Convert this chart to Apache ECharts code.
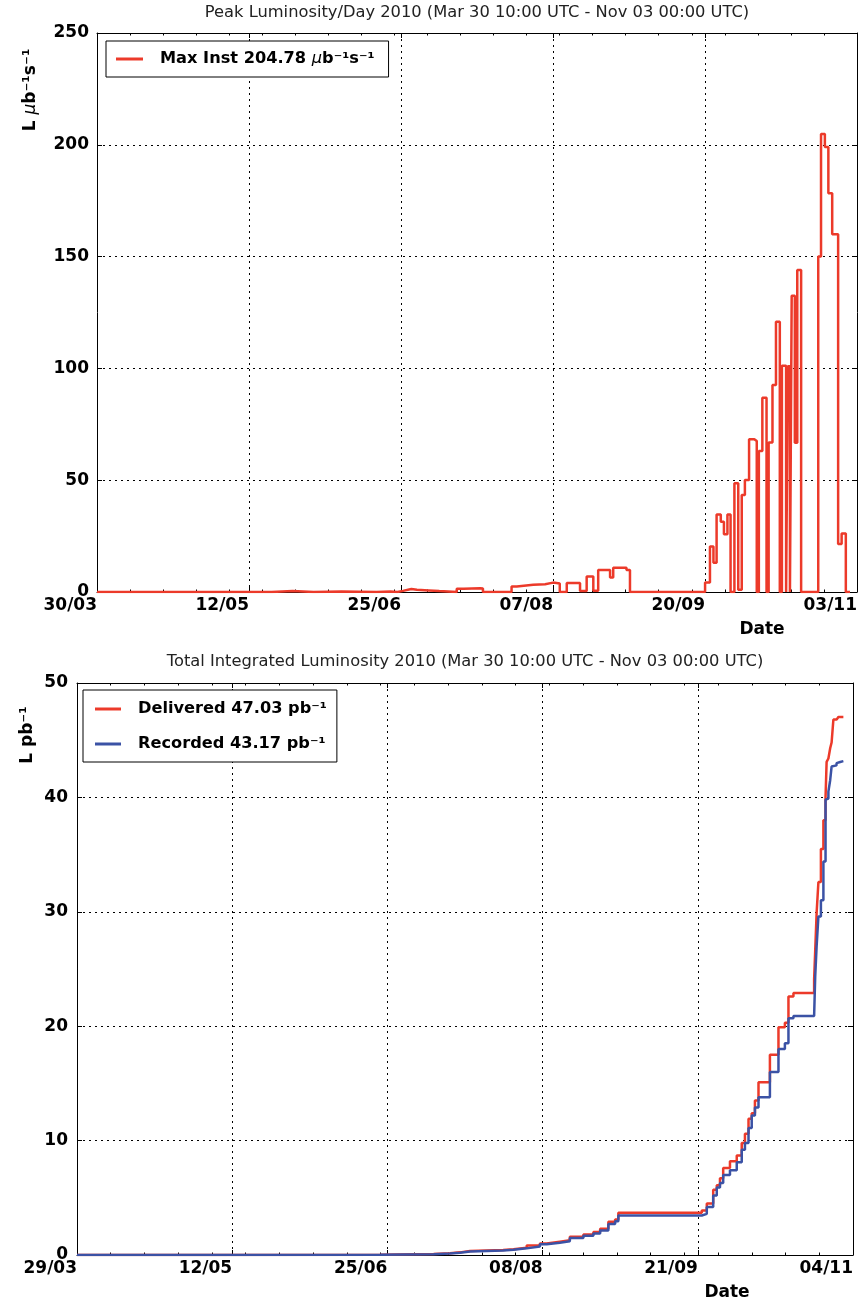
<!DOCTYPE html>
<html>
<head>
<meta charset="utf-8">
<script src="https://cdn.jsdelivr.net/npm/echarts@6/dist/echarts.min.js"></script>
<style>
html,body{margin:0;padding:0;background:#fff;}
#chart{width:861px;height:1307px;}
</style>
</head>
<body>
<div id="chart"></div>
<script>
// ---------- data ----------
const peakTitle = 'Peak Luminosity/Day 2010 (Mar 30 10:00 UTC - Nov 03 00:00 UTC)';
const intTitle = 'Total Integrated Luminosity 2010 (Mar 30 10:00 UTC - Nov 03 00:00 UTC)';
const peakTickLabels = ['30/03', '12/05', '25/06', '07/08', '20/09', '03/11'];
const intTickLabels = ['29/03', '12/05', '25/06', '08/08', '21/09', '04/11'];
const xAxisTitle = 'Date';
const peakYTitle = 'L μb⁻¹s⁻¹';
const intYTitle = 'L pb⁻¹';
const peakName = 'Max Inst 204.78 μb⁻¹s⁻¹';
const deliveredName = 'Delivered 47.03 pb⁻¹';
const recordedName = 'Recorded 43.17 pb⁻¹';

// days since start of range, step begins at each day
const peakDays = [0, 50, 56, 62, 70, 80, 84, 86, 87.6, 90, 91.6, 95, 98, 103, 105, 109.7, 110.5,
  118.7, 120.2, 124.9, 128.3, 130.6, 132.5, 134.5, 138.3, 140.2, 142.1, 143.5, 146.9, 147.8, 151.6, 152.6,
  174.1, 175.5, 176.5, 177.4, 178.6, 179.5, 180.5, 181.4, 182.5, 183.6, 184.6, 185.5, 186.7, 188.2, 188.9,
  189.5, 190.5, 191.7, 192.3, 193.4, 194.4, 195.5, 196.1, 197.3, 197.8, 198.4, 198.9, 199.8, 200.5, 201.6,
  206.5, 207.3, 208.4, 209.4, 210.5, 212.2, 213.2, 214.4, 215.6];
const peakValues = [0, 0.4, 0, 0.2, 0, 0.2, 0, 0.5, 1.3, 1.0, 0.7, 0.4, 0, 1.5, 1.7, 1.6, 0,
  2.5, 3.2, 3.5, 4.2, 3.8, 0, 4.0, 0.5, 6.9, 0.6, 9.8, 6.5, 10.9, 9.8, 0,
  4.2, 20.3, 13.1, 34.7, 31.4, 25.8, 34.7, 0, 48.6, 1, 43.4, 50.1, 68.3, 67.5, 0,
  63.1, 86.9, 0, 66.9, 92.6, 120.9, 0, 101.2, 0, 101, 0, 132.5, 66.7, 144, 0,
  150, 204.78, 199, 178.3, 160, 21.5, 26.2, 0, 0];

const intDays = [0, 40, 85, 100, 104.6, 107.4, 110.2, 119.5, 122.4, 126.1, 129.8, 131.7, 135.4, 138.2,
  142.0, 144.8, 146.7, 149.0, 150.9, 151.8, 175.2, 176.6, 178.4, 179.4, 180.3, 181.2, 183.1, 185.0,
  186.4, 187.3, 188.3, 189.2, 190.1, 191.1, 194.3, 196.7, 198.5, 199.5, 200.9, 206.7, 207.0, 207.4,
  207.9, 208.6, 209.3, 209.9, 210.2, 210.7, 211.2, 211.6, 212.1, 213.0, 213.5, 214.0, 214.9];
const deliveredValues = [0, 0.02, 0.08, 0.15, 0.23, 0.35, 0.44, 0.5, 0.64, 0.82, 1.0, 1.17, 1.3, 1.6,
  1.8, 2.0, 2.3, 2.9, 3.1, 3.7, 3.9, 4.5, 5.7, 6.1, 6.7, 7.6, 8.2, 8.7,
  9.8, 10.6, 11.9, 12.4, 13.5, 15.1, 17.5, 19.9, 20.3, 22.6, 22.9, 24.1, 26.6, 29.9,
  32.6, 35.5, 38.0, 40.0, 43.1, 43.4, 44.3, 44.8, 46.8, 46.9, 47.03, 47.03, 47.03];
const recordedValues = [0, 0.02, 0.07, 0.13, 0.2, 0.3, 0.4, 0.45, 0.58, 0.75, 0.93, 1.08, 1.2, 1.48,
  1.68, 1.88, 2.15, 2.7, 2.95, 3.45, 3.6, 4.2, 5.2, 5.9, 6.3, 7.0, 7.4, 8.1,
  9.2, 9.8, 11.1, 12.2, 12.9, 13.8, 16.0, 18.0, 18.5, 20.7, 20.9, 20.9, 24.3, 27.0,
  29.6, 31.0, 34.4, 39.8, 39.9, 40.5, 41.5, 42.7, 42.8, 43.0, 43.1, 43.17, 43.17];

const X_SPAN = 217.6; // days from start to end of range

// ---------- styling ----------
const FONT = 'DejaVu Sans';
const RED = '#ec3a2a';
const BLUE = '#3b52a5';
const DOTS = [2, 4];

function pairs(xs, ys) { return xs.map((x, i) => [x, ys[i]]); }

function legendFmt(name) {
  const parts = name.split('μ');
  if (parts.length === 1) return '{f|' + name + '}';
  return '{f|' + parts[0] + '}{i|μ}{t|' + parts[1] + '}';
}
function richFor(size) {
  return {
    f: {fontFamily: FONT, fontWeight: 'bold', fontSize: size, color: '#000', padding: [0, 0, 0, 12]},
    t: {fontFamily: FONT, fontWeight: 'bold', fontSize: size, color: '#000'},
    i: {fontFamily: FONT, fontStyle: 'italic', fontSize: size, color: '#000'}
  };
}

function makeX(gi, labels) {
  const common = {gridIndex: gi, type: 'value', min: 0, max: X_SPAN};
  const line = {show: true, onZero: false, lineStyle: {color: '#000', width: 1}};
  return [
    Object.assign({}, common, {
      position: 'bottom', interval: X_SPAN / 5, axisLine: line,
      axisTick: {show: true, inside: true, length: 5, lineStyle: {color: '#000'}},
      axisLabel: {show: true, interval: 0, formatter: v => labels[Math.round(v / (X_SPAN / 5))],
        align: 'right', margin: 5, color: '#000', fontFamily: FONT, fontWeight: 'bold', fontSize: 17,
        showMinLabel: true, showMaxLabel: true},
      splitLine: {show: true, lineStyle: {color: '#000', type: DOTS, width: 1}}
    }),
    Object.assign({}, common, {
      position: 'top', interval: X_SPAN / 5, axisLine: line,
      axisTick: {show: true, inside: true, length: 5, lineStyle: {color: '#000'}},
      axisLabel: {show: false}, splitLine: {show: false}
    }),
    Object.assign({}, common, {
      position: 'bottom', interval: X_SPAN / 23, axisLine: {show: false, onZero: false},
      axisTick: {show: true, inside: true, length: 2.5, lineStyle: {color: '#000'}},
      axisLabel: {show: false}, splitLine: {show: false}
    }),
    Object.assign({}, common, {
      position: 'top', interval: X_SPAN / 23, axisLine: {show: false, onZero: false},
      axisTick: {show: true, inside: true, length: 2.5, lineStyle: {color: '#000'}},
      axisLabel: {show: false}, splitLine: {show: false}
    })
  ];
}
function makeY(gi, yMax, yInt, margin) {
  const common = {gridIndex: gi, type: 'value', min: 0, max: yMax, interval: yInt};
  const line = {show: true, onZero: false, lineStyle: {color: '#000', width: 1}};
  return [
    Object.assign({}, common, {
      position: 'left', axisLine: line,
      axisTick: {show: true, inside: true, length: 5, lineStyle: {color: '#000'}},
      axisLabel: {show: true, margin: margin, color: '#000', fontFamily: FONT, fontWeight: 'bold', fontSize: 17,
        showMinLabel: true, showMaxLabel: true},
      splitLine: {show: true, lineStyle: {color: '#000', type: DOTS, width: 1}}
    }),
    Object.assign({}, common, {
      position: 'right', axisLine: line,
      axisTick: {show: true, inside: true, length: 5, lineStyle: {color: '#000'}},
      axisLabel: {show: false}, splitLine: {show: false}
    })
  ];
}

const chart = echarts.init(document.getElementById('chart'), null, {renderer: 'canvas'});
const option = {
  animation: false,
  backgroundColor: '#fff',
  title: [
    {text: peakTitle, left: 477, top: 5, textAlign: 'center', padding: 0,
      textStyle: {fontFamily: FONT, fontWeight: 'normal', fontSize: 16.3, color: '#222'}},
    {text: intTitle, left: 465, top: 654, textAlign: 'center', padding: 0,
      textStyle: {fontFamily: FONT, fontWeight: 'normal', fontSize: 16.3, color: '#222'}}
  ],
  grid: [
    {left: 97, top: 33, width: 760, height: 559, show: false},
    {left: 77, top: 683, width: 776, height: 572, show: false}
  ],
  xAxis: makeX(0, peakTickLabels).concat(makeX(1, intTickLabels)),
  yAxis: makeY(0, 250, 50, 8).concat(makeY(1, 50, 10, 9)),
  legend: [
    {data: [peakName], left: 106, top: 41, orient: 'vertical', icon: 'rect', itemWidth: 27, itemHeight: 3,
      padding: [9, 14, 9, 10], borderColor: '#000', borderWidth: 1, backgroundColor: '#fff',
      formatter: legendFmt, textStyle: {lineHeight: 18, rich: richFor(16.2)}},
    {data: [deliveredName, recordedName], left: 83, top: 690, orient: 'vertical', icon: 'rect',
      itemWidth: 26, itemHeight: 3, itemGap: 17,
      padding: [10, 10, 9, 12], borderColor: '#000', borderWidth: 1, backgroundColor: '#fff',
      formatter: legendFmt, textStyle: {lineHeight: 18, rich: richFor(16.2)}}
  ],
  graphic: [
    {type: 'text', x: 31, y: 90, rotation: Math.PI / 2,
      style: {text: '{t|L }{i|μ}{t|b⁻¹s⁻¹}', align: 'center', verticalAlign: 'middle',
        rich: {t: {fontFamily: FONT, fontWeight: 'bold', fontSize: 17, fill: '#000'},
               i: {fontFamily: FONT, fontStyle: 'italic', fontSize: 17, fill: '#000'}}}},
    {type: 'text', x: 28, y: 735, rotation: Math.PI / 2,
      style: {text: intYTitle, align: 'center', verticalAlign: 'middle',
        fontFamily: FONT, fontWeight: 'bold', fontSize: 17, fill: '#000'}},
    {type: 'text', x: 762, y: 630, style: {text: xAxisTitle, align: 'center', verticalAlign: 'middle',
      fontFamily: FONT, fontWeight: 'bold', fontSize: 17, fill: '#000'}},
    {type: 'text', x: 727, y: 1293, style: {text: xAxisTitle, align: 'center', verticalAlign: 'middle',
      fontFamily: FONT, fontWeight: 'bold', fontSize: 17, fill: '#000'}}
  ],
  series: [
    {type: 'line', name: peakName, xAxisIndex: 0, yAxisIndex: 0, step: 'end', symbol: 'none',
      data: pairs(peakDays, peakValues), lineStyle: {color: RED, width: 2.5}, itemStyle: {color: RED}},
    {type: 'line', name: deliveredName, xAxisIndex: 4, yAxisIndex: 2, step: 'end', symbol: 'none',
      data: pairs(intDays, deliveredValues), lineStyle: {color: RED, width: 2.5}, itemStyle: {color: RED}},
    {type: 'line', name: recordedName, xAxisIndex: 4, yAxisIndex: 2, step: 'end', symbol: 'none',
      data: pairs(intDays, recordedValues), lineStyle: {color: BLUE, width: 2.5}, itemStyle: {color: BLUE}}
  ]
};
chart.setOption(option);
</script>
</body>
</html>
